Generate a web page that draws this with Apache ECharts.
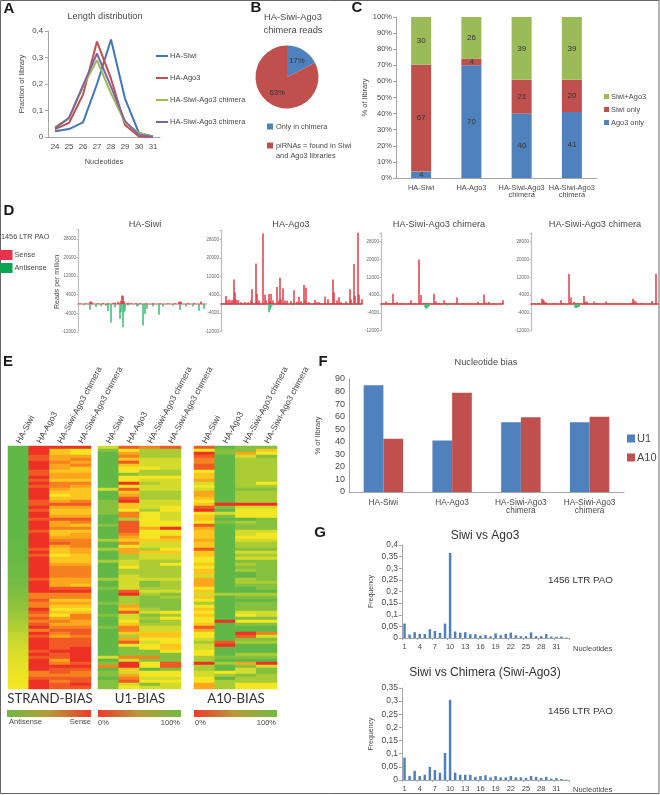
<!DOCTYPE html>
<html><head><meta charset="utf-8">
<style>html,body{margin:0;padding:0;background:#fff}#c{width:660px;height:795px}</style>
<script src="https://cdn.jsdelivr.net/npm/echarts@6/dist/echarts.min.js"></script>
</head><body><div id="c"></div>
<script>
// ---------- Panel A
const lenCats=['24','25','26','27','28','29','30','31'];
const lenSiwi=[.022,.03,.055,.2,.368,.145,.015,.002];
const lenAgo3=[.03,.053,.16,.36,.22,.045,.002,0];
const lenChim1=[.037,.07,.19,.29,.165,.055,.015,.002];
const lenChim2=[.033,.072,.195,.315,.19,.06,.008,.001];
// ---------- Panel B
const pieNames=['Only in chimera','piRNAs = found in Siwi'];
const pieValues=[17.5,82.5];
const pieLabels=['17%','63%'];
// ---------- Panel C
const libCats=['HA-Siwi','HA-Ago3','HA-Siwi-Ago3\nchimera','HA-Siwi-Ago3\nchimera'];
const ago3Only=[4,70,40,41];
const siwiOnly=[67,4,21,20];
const siwiAgo3=[30,26,39,39];
// ---------- Panel D: [position along element, reads per million]
const d1Sense=[[2,300],[8,300],[12,1000],[13,1100],[14,800],[20,300],[25,400],[30,300],[35,400],[37,600],[40,1000],[42,500],[43,1400],[44,3700],[45,3600],[46,1200],[50,500],[53,400],[58,300],[62,400],[68,300],[75,300],[82,300],[90,300],[97,400],[101,1000],[102,1100],[103,900],[110,300],[116,400],[123,1100]];
const d1Anti=[[6,-500],[12,-2500],[18,-1300],[23,-1000],[28,-700],[30,-3000],[33,-8000],[37,-1400],[42,-6400],[43,-3600],[45,-10000],[46,-3500],[47,-2800],[50,-600],[59,-1100],[60,-800],[65,-9300],[67,-4300],[69,-2000],[75,-1100],[81,-4600],[85,-1100],[95,-800],[102,-2600],[108,-1100],[115,-1100],[121,-2900],[126,-2100]];
const d2Sense=[[3,300],[5,3500],[6,1500],[8,2000],[10,1600],[12,1800],[13,10700],[14,5000],[15,2000],[17,1700],[20,800],[24,800],[27,800],[30,1500],[31,6400],[35,17600],[36,4300],[38,1500],[42,30700],[44,4000],[45,1500],[48,4300],[49,1200],[50,4300],[52,1500],[56,7400],[58,1500],[59,11400],[60,2000],[62,6900],[64,1500],[66,1400],[70,1200],[73,6000],[76,1000],[78,3100],[80,1200],[83,8300],[84,1500],[85,7100],[88,800],[94,1700],[96,800],[98,800],[104,3100],[107,2100],[112,10700],[113,5000],[116,1500],[118,2900],[120,800],[125,1100],[129,6400],[130,2000],[133,17400],[134,3600],[137,31000],[138,4000],[141,2100]];
const d2Anti=[[14,-500],[48,-3600],[49,-2600],[50,-1500],[52,-600],[72,-700],[75,-300],[90,-300]];
const d3Sense=[[2,300],[5,1100],[8,300],[12,4600],[13,500],[16,900],[20,300],[28,300],[30,1700],[33,300],[38,20000],[40,4000],[43,600],[46,500],[53,4600],[55,1100],[58,500],[63,1700],[65,400],[72,300],[76,2900],[82,300],[90,300],[97,900],[103,4300],[105,700],[108,900],[113,300],[122,1700]];
const d3Anti=[[33,-400],[44,-1500],[45,-2000],[46,-2000],[47,-1600],[48,-1000],[66,-700],[67,-500],[78,-200]];
const d4Sense=[[3,500],[8,500],[11,2400],[12,2000],[13,1400],[15,800],[22,300],[30,1700],[32,400],[38,13600],[40,2900],[43,900],[47,500],[53,3600],[54,1000],[56,1100],[63,1100],[66,400],[75,1100],[80,300],[90,300],[100,400],[102,2400],[103,1600],[105,1100],[110,500],[121,1400],[125,13600],[129,1100]];
const d4Anti=[[44,-1700],[45,-1700],[46,-1700],[47,-1500],[48,-1400],[65,-400],[66,-300]];
// ---------- Panel E: 0 green, 4 yellow, 9 red; digit strings hold one digit per row
const heatCols=['HA-Siwi','HA-Ago3','HA-Siwi-Ago3 chimera','HA-Siwi-Ago3 chimera '];
const strandSiwi=[0,0,0,0,0,0,0,0,0,0,0,0,0,0,0,0,0,0,0,0,0,0,0,0,0,0,0,0,0,0,0,.1,.1,.1,.1,.1,.2,.2,.2,.2,.3,.3,.4,.4,.5,.5,.6,.7,.8,.9,1,1.1,1.2,1.3,1.4,1.6,1.7,1.8,2,2.1,2.2,2.3,2.5,2.6,2.7,2.8,2.9,3,3.1,3.2,3.3,3.4,3.5,3.5,3.6,3.7,3.8,3.8,3.9,3.9,4];
const strandAgo3 ="9998899988 9898999988 9899899989 9999898999 9999899997 7877987878 9798999989 8999977899 9";
const strandChA  ="9556676656 6577654568 6556866755 6786554556 7777666897 7565454676 7876888898 8679887878 8";
const strandChB  ="9446767556 6576555578 6556875756 6777665556 7777665897 7565457766 7887888999 9989877889 8";
const u1Siwi ="3100000000 0000300011 1110001000 0200200020 0000200100 0010001000 1000000000 3017011011 1";
const u1Ago3 ="8467585441 4494856895 5477288887 6574662233 4223333389 2226583345 7752684111 7399536783 4";
const u1ChA  ="7222333422 4323322233 3244444644 4533253322 2222311232 1111231212 3355434411 7144044341 3";
const u1ChB  ="8222333322 4333322233 4433344944 6533453324 2222322231 2111142422 3355445541 1188144343 3";
const a10Siwi="8498778845 5634366545 8945548655 5655855445 4553666453 5424545445 8644323344 2292233446 6";
const a10Ago3="0110000000 0000000009 1031010000 0000000000 0000000002 0000000090 0000089000 1020042022 2";
const a10ChA ="1163222222 2222122229 3444021133 4322132312 1200221002 1011134141 0098120002 1061331224 4";
const a10ChB ="1541222222 2242122229 3444111134 4322132311 1111121102 1011133141 0073120002 1093112224 4";
// ---------- Panel F
const u1Bias=[85,41,55.5,55.5];
const a10Bias=[42.5,79,59.5,60];
// ---------- Panel G
const ntCats=['1','2','3','4','5','6','7','8','9','10','11','12','13','14','15','16','17','18','19','20','21','22','23','24','25','26','27','28','29','30','31','32','33'];
const freqAgo3=[.062,.015,.025,.018,.017,.038,.03,.022,.062,.366,.028,.023,.025,.016,.016,.01,.013,.007,.02,.012,.018,.023,.012,.008,.008,.024,.008,.008,.017,.006,.005,.006,.002];
const freqChim=[.085,.015,.035,.015,.02,.05,.038,.028,.103,.305,.028,.02,.02,.02,.012,.015,.018,.01,.015,.01,.01,.015,.01,.01,.008,.015,.012,.008,.012,.005,.007,.004,.001];

const FF='"Liberation Sans",Arial,sans-serif', TC='#4a4a4a', AX='#a6a6a6';
const BLUE='#4f81bd',RED='#c0504d',GREEN='#9bbb59',PURPLE='#8064a2';
const comma=v=>String(v).replace('.',',');
const grids=[],xAxes=[],yAxes=[],series=[],legends=[],gfx=[];
function grid(l,t,r,b){grids.push({left:l,top:t,width:r-l,height:b-t,containLabel:false});return grids.length-1;}
function lab(size,margin,extra){return Object.assign({color:TC,fontFamily:FF,fontSize:size,margin},extra||{});}
function nameStyle(size){return {color:TC,fontFamily:FF,fontSize:size};}
function cat(g,data,o){const a=Object.assign({type:'category',gridIndex:g,data,axisLine:{lineStyle:{color:AX}},axisTick:{lineStyle:{color:AX}},
  axisLabel:lab(7.4,6,{interval:0}),nameTextStyle:nameStyle(7.4)},o||{});xAxes.push(a);return xAxes.length-1;}
function val(g,o){const a=Object.assign({type:'value',gridIndex:g,splitLine:{show:false},axisLine:{show:true,lineStyle:{color:AX}},axisTick:{show:true,lineStyle:{color:AX},length:3},
  axisLabel:lab(7.5,5),nameLocation:'middle',nameTextStyle:nameStyle(7.6)},o||{});yAxes.push(a);return yAxes.length-1;}
function txt(text,x,y,size,o){o=o||{};gfx.push({type:'text',x,y,rotation:o.rot||0,silent:true,style:{text,fill:o.fill||TC,
  font:(o.bold?'bold ':'')+size+'px '+(o.ff||FF),textAlign:o.align||'center',textVerticalAlign:'middle'}});}
const baseLegend={selectedMode:false,orient:'vertical',padding:0};

// Panel A
{const g=grid(48,31,160,137);const x=cat(g,lenCats,{name:'Nucleotides',nameLocation:'middle',nameGap:21,axisLabel:lab(7.8,6,{interval:0})});
 const y=val(g,{min:0,max:.4,interval:.1,name:'Fraction of library',nameGap:22,axisLabel:lab(7.8,5,{formatter:comma})});
 [['HA-Siwi',lenSiwi,'#3f77ba'],['HA-Ago3',lenAgo3,RED],['HA-Siwi-Ago3 chimera',lenChim1,GREEN],['HA-Siwi-Ago3 chimera ',lenChim2,PURPLE]].forEach(s=>{
  series.push({type:'line',name:s[0],data:s[1],xAxisIndex:x,yAxisIndex:y,symbol:'none',lineStyle:{width:2,color:s[2]},itemStyle:{color:s[2]}});});
 legends.push(Object.assign({},baseLegend,{left:156,top:52,itemGap:14,itemWidth:12,itemHeight:2,icon:'rect',data:['HA-Siwi','HA-Ago3','HA-Siwi-Ago3 chimera','HA-Siwi-Ago3 chimera '],textStyle:{color:TC,fontFamily:FF,fontSize:7.5,padding:[0,0,0,-3]}}));
 txt('Length distribution',105,16,9.2);
}
// Panel B
series.push({type:'pie',center:[287,77],radius:[0,31.5],startAngle:90,clockwise:true,silent:true,
 data:pieNames.map((n,i)=>({name:n,value:pieValues[i],itemStyle:{color:i?RED:BLUE},label:{formatter:pieLabels[i]}})),
 label:{position:'inner',color:'#333',fontFamily:FF,fontSize:7.8},labelLine:{show:false}});
legends.push(Object.assign({},baseLegend,{left:267,top:123,itemGap:12,itemWidth:6,itemHeight:6,icon:'rect',data:pieNames,textStyle:{color:TC,fontFamily:FF,fontSize:7.4,padding:[0,0,0,-2]}}));
txt('and Ago3 libraries',276,156,7.4,{align:'left'});
txt('HA-Siwi-Ago3',293,17,9.3);txt('chimera reads',293,30,9.3);
// Panel C
{const g=grid(396,17,597,178);const x=cat(g,libCats);
 const y=val(g,{min:0,max:100,interval:10,name:'% of library',nameGap:26,axisLabel:lab(7.5,4,{formatter:'{value}%'})});
 const totals=ago3Only.map((v,i)=>v+siwiOnly[i]+siwiAgo3[i]);
 [['Ago3 only',ago3Only,BLUE],['Siwi only',siwiOnly,RED],['Siwi+Ago3',siwiAgo3,GREEN]].forEach(s=>{
  series.push({type:'bar',name:s[0],stack:'c',barWidth:20,xAxisIndex:x,yAxisIndex:y,itemStyle:{color:s[2]},
   data:s[1].map((v,i)=>({value:v/totals[i]*100,raw:v})),
   label:{show:true,position:'inside',color:'#333',fontFamily:FF,fontSize:8,formatter:p=>p.data.raw}});});
 legends.push(Object.assign({},baseLegend,{left:604,top:93,itemGap:6,itemWidth:5,itemHeight:5,icon:'rect',data:['Siwi+Ago3','Siwi only','Ago3 only'],textStyle:{color:TC,fontFamily:FF,fontSize:7.4,padding:[0,0,0,-3]}}));
}
// Panel D
[[d1Sense,d1Anti,78,206,'#e08a8a',18.6,304,'HA-Siwi',145],
 [d2Sense,d2Anti,221,362,'#b03a3a',18.4,304,'HA-Ago3',291],
 [d3Sense,d3Anti,381,503,'#d8322c',17.8,304,'HA-Siwi-Ago3 chimera',439],
 [d4Sense,d4Anti,531,658,'#d8322c',17.8,304,'HA-Siwi-Ago3 chimera',595]].forEach(p=>{
 const top=p[6]-32000/8000*p[5],bot=p[6]+12000/8000*p[5];
 const g=grid(p[2],top,p[3],bot);
 xAxes.push({type:'value',gridIndex:g,min:0,max:p[3]-p[2],axisLabel:{show:false},axisTick:{show:false},splitLine:{show:false},axisLine:{onZero:true,lineStyle:{color:p[4],width:1.6}}});
 const x=xAxes.length-1;
 const y=val(g,{min:-12000,max:32000,interval:8000,axisLine:{show:true,onZero:false,lineStyle:{color:'#bdbdbd',width:1.2}},axisTick:{show:true,length:1.5,lineStyle:{color:'#bdbdbd'}},
  axisLabel:{color:'#666',fontFamily:FF,fontSize:4.5,margin:2,formatter:v=>v===32000?'':v}});
 series.push({type:'bar',name:'Sense',data:p[0],xAxisIndex:x,yAxisIndex:y,barWidth:1.5,barGap:'-100%',itemStyle:{color:'#e23a44'}});
 series.push({type:'bar',name:'Antisense',data:p[1],xAxisIndex:x,yAxisIndex:y,barWidth:1.5,barGap:'-100%',itemStyle:{color:'#3fb878'}});
 txt(p[7],p[8],224,9.2);
});
txt('1456 LTR PAO',1,237,7.3,{align:'left'});
legends.push(Object.assign({},baseLegend,{left:0,top:250,itemGap:3,itemWidth:12.5,itemHeight:10,icon:'rect',data:[{name:'Sense',itemStyle:{color:'#e8344a'}},{name:'Antisense',itemStyle:{color:'#0aa550'}}],textStyle:{color:TC,fontFamily:FF,fontSize:7.3,padding:[0,0,0,-3]}}));
txt('Reads per million',57,282,7,{rot:Math.PI/2});
// Panel E
const HC=['#62b846','#86c03f','#a9cb35','#d3dc2c','#f4e622','#fcc61f','#fba61e','#f5821f','#f15a25','#ee3124'];
const heatSeries=[];
function digits(s){return Array.isArray(s)?s:s.replace(/ /g,'').split('').map(Number);}
[[[strandSiwi,strandAgo3,strandChA,strandChB],8,91],[[u1Siwi,u1Ago3,u1ChA,u1ChB],98,181],[[a10Siwi,a10Ago3,a10ChA,a10ChB],194,277]].forEach(b=>{
 const g=grid(b[1],446,b[2],689);
 const cols=b[0].map(digits);const rows=cols[0].map((_,i)=>i);
 xAxes.push({type:'category',gridIndex:g,position:'top',data:heatCols,axisLine:{show:false},axisTick:{show:false},
  axisLabel:{rotate:-62,interval:0,margin:3,color:TC,fontFamily:FF,fontSize:8.5,formatter:v=>v.trim()}});
 const x=xAxes.length-1;
 yAxes.push({type:'category',gridIndex:g,data:rows,inverse:true,show:false});const y=yAxes.length-1;
 const data=[];cols.forEach((c,ci)=>c.forEach((v,ri)=>data.push([ci,ri,v])));
 heatSeries.push(series.length);
 series.push({type:'heatmap',data,xAxisIndex:x,yAxisIndex:y,silent:true});
});
[['STRAND-BIAS',50],['U1-BIAS',140],['A10-BIAS',236]].forEach(t=>txt(t[0],t[1],699,13.2,{ff:'Lato,"Open Sans",sans-serif',fill:'#333'}));
function bar(l,r,c1,c2){gfx.push({type:'rect',silent:true,shape:{x:l,y:710,width:r-l,height:7},
 style:{fill:new echarts.graphic.LinearGradient(0,0,1,0,[{offset:0,color:c1},{offset:.5,color:'#b59a3a'},{offset:1,color:c2}])}});}
bar(7,91,'#72b944','#ee3c2b');bar(98,181,'#ee3c2b','#72b944');bar(194,277,'#ee3c2b','#72b944');
txt('Antisense',9,722,7.5,{align:'left'});txt('Sense',91,722,7.5,{align:'right'});
txt('0%',98,723,7.5,{align:'left'});txt('100%',180,723,7.5,{align:'right'});
txt('0%',195,723,7.5,{align:'left'});txt('100%',276,723,7.5,{align:'right'});
// Panel F
{const g=grid(349,379,624,492);const x=cat(g,libCats,{axisLabel:lab(8.3,7,{interval:0})});
 const y=val(g,{min:0,max:90,interval:10,name:'% of library',nameGap:27,axisTick:{show:false},axisLabel:lab(9,4)});
 series.push({type:'bar',name:'U1',data:u1Bias,xAxisIndex:x,yAxisIndex:y,barWidth:19.7,barGap:0,itemStyle:{color:BLUE}});
 series.push({type:'bar',name:'A10',data:a10Bias,xAxisIndex:x,yAxisIndex:y,barWidth:19.7,barGap:0,itemStyle:{color:RED}});
 legends.push(Object.assign({},baseLegend,{left:627,top:433,itemGap:8,itemWidth:8,itemHeight:8,icon:'rect',data:['U1','A10'],textStyle:{color:TC,fontFamily:FF,fontSize:11,padding:[0,0,0,-3]}}));
 txt('Nucleotide bias',486,362,9.2);
}
// Panel G
[[freqAgo3,545,638,.4,.05,'Siwi vs Ago3',536,580,649],[freqChim,688,780,.35,.05,'Siwi vs Chimera (Siwi-Ago3)',673,711,790]].forEach(p=>{
 const g=grid(402,p[1],569,p[2]);
 const x=cat(g,ntCats,{axisTick:{show:true,alignWithLabel:false,length:2,lineStyle:{color:AX}},axisLabel:lab(7.5,5,{interval:2})});
 const y=val(g,{min:0,max:p[3],interval:p[4],name:'Frequency',nameGap:27,axisLabel:lab(8.5,4,{formatter:comma}),nameTextStyle:nameStyle(7)});
 series.push({type:'bar',data:p[0],xAxisIndex:x,yAxisIndex:y,barWidth:2.5,itemStyle:{color:BLUE}});
 txt(p[5],485,p[6],12,{fill:'#333'});
 txt('1456 LTR PAO',548,p[7],9.8,{align:'left',fill:'#333'});
 txt('Nucleotides',573,p[8],7.5,{align:'left'});
});
// Panel letters
[['A',9,9],['B',256,8],['C',357,8],['D',9,211],['E',8,362],['F',323,362],['G',320,533]].forEach(t=>txt(t[0],t[1],t[2],15,{bold:true,fill:'#1a1a1a'}));
// frame
gfx.push({type:'rect',silent:true,shape:{x:0.5,y:0.5,width:658.5,height:793},style:{fill:'none',stroke:'#666',lineWidth:1}});

const chart=echarts.init(document.getElementById('c'),null,{renderer:'canvas'});
chart.setOption({animation:false,backgroundColor:'#fff',grid:grids,xAxis:xAxes,yAxis:yAxes,series,legend:legends,graphic:gfx,
 visualMap:{show:false,type:'continuous',min:0,max:9,seriesIndex:heatSeries,inRange:{color:HC},calculable:false}});
</script></body></html>
